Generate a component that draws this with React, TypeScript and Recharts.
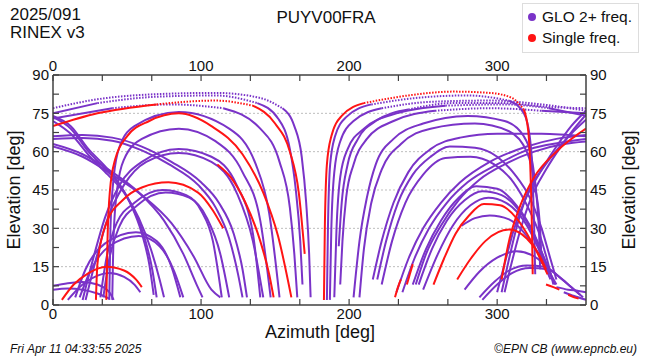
import React from "react";
import { LineChart, Line, XAxis, YAxis, ReferenceLine } from "recharts";

type Pt = [number, number]; // [azimuth, elevation]

// axis ticks / grid
const azTicks = [0, 33.3, 66.7, 100, 133.3, 166.7, 200, 233.3, 266.7, 300, 333.3];
const azLabels = [0, 100, 200, 300];
const elTicks = [0, 7.5, 15, 22.5, 30, 37.5, 45, 52.5, 60, 67.5, 75, 82.5, 90];
const elLabels = [0, 15, 30, 45, 60, 75, 90];
const gridEls = [15, 30, 45, 60, 75];

// ---- GLONASS 2+ freq. tracks (west half)
const gA1: Pt[] = [[0, 77], [30, 80.5], [70, 82.5], [110, 83], [140, 81], [155, 77], [163, 70], [168, 58], [171, 40], [173, 20], [174, 3]];
const gA2: Pt[] = [[0, 75], [30, 79], [70, 81.5], [110, 82], [138, 79], [152, 73], [160, 61], [164, 45], [167, 25], [168.5, 8]];
const gA4: Pt[] = [[0, 73], [40, 77], [80, 78.5], [115, 77], [140, 69], [153, 56], [160, 38], [163, 20], [165, 3]];
const gB2: Pt[] = [[38, 2], [38.8, 30], [41, 50], [45, 62], [55, 70], [85, 75.5], [119, 69], [137, 55], [146, 36], [153, 3]];
const gB3: Pt[] = [[40, 2], [41, 28], [43.5, 46], [48, 57], [60, 65], [85, 69], [110, 64], [128, 52], [140, 33], [147, 3]];
const gC1: Pt[] = [[20, 2], [28, 20], [35, 34], [45, 47], [60, 56], [85, 61], [107, 58], [124, 47], [135, 28], [140, 3]];
const gC2: Pt[] = [[22, 2], [30, 20], [37, 34], [48, 47], [63, 56], [85, 59.5], [107, 56], [124, 44], [135, 25], [142, 3]];
const gD1: Pt[] = [[0, 66], [20, 66.5], [40, 65.5], [60, 62], [80, 56], [100, 48], [112, 40], [122, 28], [128, 14], [131, 3]];
const gD2: Pt[] = [[0, 65], [20, 65.3], [40, 64.3], [60, 60.5], [80, 54.5], [98, 47], [110, 38], [119, 26], [125, 12], [128, 3]];
const gH1: Pt[] = [[0, 74], [12, 70], [24, 61], [34, 55], [43, 49], [52, 40], [60, 28], [65, 16], [68, 4]];
const gH2: Pt[] = [[0, 73.5], [12, 69], [24, 60], [35, 53.5], [45, 47], [54, 38], [62, 26], [67, 14], [70, 3]];
const gH3: Pt[] = [[0, 72], [12, 67], [25, 58], [37, 51], [48, 44], [58, 34], [66, 22], [72, 10], [75, 3]];
const gH4: Pt[] = [[0, 63], [20, 59], [40, 52], [58, 44], [75, 33], [88, 20], [97, 8], [101, 3]];
const gH5: Pt[] = [[0, 62], [20, 58], [40, 51], [60, 43], [80, 32], [95, 19], [107, 6], [113, 3]];
const gE1: Pt[] = [[32, 3], [36, 18], [43, 32], [55, 40], [74, 45], [90, 43], [100, 37], [108, 25], [114, 3]];
const gE2: Pt[] = [[34, 3], [38, 18], [45, 31], [57, 39], [76, 44], [92, 42], [104, 34], [113, 20], [119, 3]];
const gF1: Pt[] = [[15, 3], [22, 14], [35, 24], [56, 28.5], [70, 25], [80, 15], [86, 3]];
const gF2: Pt[] = [[18, 3], [25, 13], [38, 23], [58, 27], [72, 23], [82, 13], [88, 3]];
const gG2: Pt[] = [[0, 7.5], [10, 8.5], [20, 9], [30, 8], [38, 5], [41, 2]];
const gG3: Pt[] = [[0, 6], [10, 6.5], [20, 6], [30, 4.5], [38, 2.5]];
const gG4: Pt[] = [[10, 2], [20, 8], [30, 11.5], [38, 12.5], [48, 11], [55, 8], [59, 5]];

// ---- GLONASS 2+ freq. tracks (east half)
const gJ2: Pt[] = [[185, 2], [185.7, 30], [187.2, 55], [190.5, 66], [198, 73.5], [215, 78.5], [245, 81], [280, 82], [308, 80], [318, 75], [322, 66], [324, 50], [325, 30], [325.7, 12]];
const gJ3: Pt[] = [[187, 2], [188, 30], [190, 52], [194, 64], [203, 72], [222, 77], [255, 79.5], [295, 80], [330, 78.5], [360, 76]];
const gJ4: Pt[] = [[190, 3], [191.5, 30], [194, 50], [199, 61], [210, 69], [232, 75], [265, 78], [305, 78.5], [335, 77], [360, 74]];
const gJ5: Pt[] = [[193, 23], [195, 40], [199, 55], [206, 65], [218, 72], [240, 76.5], [270, 79], [305, 79], [335, 77.5], [360, 77]];
const gJ6: Pt[] = [[194, 8], [195.5, 25], [198, 42], [203, 55], [212, 65], [230, 72], [258, 76], [295, 77], [330, 76], [360, 75]];
const gJ7: Pt[] = [[203, 3], [207, 25], [212, 42], [218, 55], [230, 65], [250, 71], [280, 74], [305, 72], [318, 66], [324, 55], [327, 40], [328.5, 25], [329, 14]];
const gJ8: Pt[] = [[207, 3], [210, 22], [215, 40], [222, 53], [235, 63], [255, 69], [285, 71], [308, 68], [320, 60], [326, 45], [329, 30], [330, 16]];
const gN1: Pt[] = [[303, 5], [308, 18], [313, 30], [320, 43], [330, 53], [340, 62], [350, 70], [360, 76]];
const gN2: Pt[] = [[305, 5], [310, 17], [316, 30], [323, 42], [333, 53], [343, 62], [352, 69], [360, 74.5]];
const gN3: Pt[] = [[300, 5], [305, 16], [311, 29], [318, 40], [327, 50], [338, 59], [350, 67], [360, 72.5]];
const gO1: Pt[] = [[232, 5], [240, 18], [250, 30], [262, 40], [275, 48], [295, 56], [320, 62], [340, 65], [360, 66.5]];
const gO2: Pt[] = [[236, 5], [244, 18], [254, 30], [266, 40], [280, 48], [300, 55], [322, 61], [342, 63.5], [360, 65]];
const gO3: Pt[] = [[245, 8], [252, 20], [262, 31], [274, 41], [288, 49], [305, 55], [325, 60], [345, 63], [360, 64]];
const gP1: Pt[] = [[216, 10], [222, 25], [230, 40], [240, 52], [255, 61], [275, 65.5], [300, 67], [330, 67], [360, 66]];
const gP2: Pt[] = [[219, 10], [225, 25], [233, 40], [243, 51], [255, 58], [268, 62], [285, 61.5], [300, 58], [312, 51], [322, 42], [330, 30], [336, 18], [340, 10]];
const gP3: Pt[] = [[222, 8], [229, 25], [238, 40], [250, 51], [265, 57.5], [282, 58], [298, 55], [311, 48], [321, 38], [329, 27], [335, 15], [338, 8]];
const gK1: Pt[] = [[243, 8], [252, 22], [262, 33], [274, 42], [286, 46.5], [300, 45.5], [313, 39], [324, 29], [332, 18], [338, 9]];
const gK2: Pt[] = [[247, 8], [256, 22], [266, 33], [278, 41], [290, 44.5], [303, 43], [316, 36], [326, 26], [334, 15], [339, 8]];
const gK3: Pt[] = [[250, 6], [260, 20], [270, 31], [282, 39], [294, 42], [306, 40], [318, 33], [328, 22], [335, 12]];
const gL1: Pt[] = [[276, 31], [285, 34], [295, 35], [308, 33.5], [320, 27], [330, 18], [336, 10]];
const gL2: Pt[] = [[278, 6], [288, 13], [300, 18.5], [313, 21], [325, 19], [334, 14], [340, 8]];
const gL3: Pt[] = [[288, 3], [298, 9], [308, 13.5], [320, 15.5], [332, 15], [342, 11], [350, 7], [356, 4]];
const gL4: Pt[] = [[290, 2], [300, 8], [310, 12.5], [322, 14.5], [334, 14], [344, 10], [352, 6], [358, 3]];
const gM1: Pt[] = [[340, 7], [348, 6], [355, 5.5], [360, 5]];
const gM2: Pt[] = [[345, 5], [352, 3.5], [360, 2]];

// ---- single freq. tracks
const sA3: Pt[] = [[0, 70], [30, 75], [70, 78.5], [110, 80], [135, 78], [150, 71], [160, 60], [166, 44], [170, 20]];
const sB1: Pt[] = [[36, 2], [36.8, 25], [38.5, 45], [42, 57], [50, 66], [65, 72], [85, 75], [107, 70], [128, 59], [142, 44], [152, 27], [161, 3]];
const sF1: Pt[] = [[29, 2], [30, 16], [36, 32], [47, 41], [60, 46], [78, 48], [98, 44], [108, 37], [115, 30]];
const sG1: Pt[] = [[6, 2], [14, 8], [24, 12.5], [36, 15], [48, 13.5], [56, 10], [60, 7]];
const sR3: Pt[] = [[111, 55], [120, 50], [130, 40], [140, 25], [146, 12], [149, 3]];
const sJ1: Pt[] = [[183, 2], [183.6, 30], [185, 55], [188, 66], [195, 74], [210, 79], [240, 82], [270, 83.5], [295, 83], [310, 81], [318, 76.5], [321, 68], [322.5, 52], [323.5, 30], [324, 12]];
const sR5: Pt[] = [[303, 10], [308, 25], [315, 38], [325, 50], [340, 60], [360, 69]];
const sR6: Pt[] = [[257, 8], [264, 18], [272, 28], [281, 35], [291, 39.5], [302, 39], [313, 34], [323, 25], [330, 17], [334, 12]];
const sR7: Pt[] = [[273, 10], [282, 18], [292, 25], [308, 29.5], [320, 26], [328, 20], [333, 14]];
const sQ1: Pt[] = [[231, 3], [233, 7], [235, 10]];
const sQ2: Pt[] = [[239, 8], [241, 12], [243, 16]];
const sM3: Pt[] = [[333, 8], [338, 7], [342, 6]];
const sM4: Pt[] = [[348, 4], [352, 3], [355, 2.5]];

const gloTracks = [gA1, gA2, gA4, gB2, gB3, gC1, gC2, gD1, gD2, gH1, gH2, gH3, gH4, gH5, gE1, gE2, gF1, gF2, gG2, gG3, gG4,
  gJ2, gJ3, gJ4, gJ5, gJ6, gJ7, gJ8, gN1, gN2, gN3, gO1, gO2, gO3, gP1, gP2, gP3, gK1, gK2, gK3, gL1, gL2, gL3, gL4, gM1, gM2];
const singleTracks = [sA3, sB1, sF1, sG1, sR3, sJ1, sR5, sR6, sR7, sQ1, sQ2, sM3, sM4];

const GLO = "#7a33c8";
const SINGLE = "#ff1414";
const AXIS = "#404040";
const FONT = "'Liberation Sans', Arial, Helvetica, sans-serif";
const TM = 3; // tick margin
const TL = 6; // inward tick length

// near the zenith the samples spread apart, so the plot shows dots there
function segments(track: Pt[]) {
  const out: { dotted: boolean; rows: { az: number; el: number }[] }[] = [];
  for (let i = 0; i < track.length - 1; i++) {
    const dotted = Math.min(track[i][1], track[i + 1][1]) >= 75.5;
    const next = { az: track[i + 1][0], el: track[i + 1][1] };
    const last = out[out.length - 1];
    if (last && last.dotted === dotted) last.rows.push(next);
    else out.push({ dotted, rows: [{ az: track[i][0], el: track[i][1] }, next] });
  }
  return out;
}

const isLabel = (v: number, list: number[]) => list.some((l) => Math.abs(l - v) < 0.01);

const BottomTick = ({ x, y, payload }: any) => (
  <g>
    <line x1={x} x2={x} y1={y - TM} y2={y - TM - TL} stroke={AXIS} strokeWidth={1.2} />
    {isLabel(payload.value, azLabels) && (
      <text x={x} y={y} dy="0.75em" textAnchor="middle" fontSize={15} fill="#111" fontFamily={FONT}>{payload.value}</text>
    )}
  </g>
);
const TopTick = ({ x, y, payload }: any) => (
  <g>
    <line x1={x} x2={x} y1={y + TM} y2={y + TM + TL} stroke={AXIS} strokeWidth={1.2} />
    {isLabel(payload.value, azLabels) && (
      <text x={x} y={y} dy="-0.1em" textAnchor="middle" fontSize={15} fill="#111" fontFamily={FONT}>{payload.value}</text>
    )}
  </g>
);
const LeftTick = ({ x, y, payload }: any) => (
  <g>
    <line x1={x + TM} x2={x + TM + TL} y1={y} y2={y} stroke={AXIS} strokeWidth={1.2} />
    {isLabel(payload.value, elLabels) && (
      <text x={x - 1} y={y} dy="0.36em" textAnchor="end" fontSize={15} fill="#111" fontFamily={FONT}>{payload.value}</text>
    )}
  </g>
);
const RightTick = ({ x, y, payload }: any) => (
  <g>
    <line x1={x - TM} x2={x - TM - TL} y1={y} y2={y} stroke={AXIS} strokeWidth={1.2} />
    {isLabel(payload.value, elLabels) && (
      <text x={x + 1} y={y} dy="0.36em" textAnchor="start" fontSize={15} fill="#111" fontFamily={FONT}>{payload.value}</text>
    )}
  </g>
);

function trackLines(tracks: Pt[][], color: string, prefix: string) {
  return tracks.flatMap((t, i) =>
    segments(t).map((s, j) => (
      <Line
        key={`${prefix}${i}-${j}`}
        data={s.rows}
        dataKey="el"
        type="monotone"
        stroke={color}
        strokeWidth={2}
        strokeDasharray={s.dotted ? "1.5 1.5" : undefined}
        dot={false}
        activeDot={false}
        isAnimationActive={false}
      />
    ))
  );
}

export default function App() {
  return (
    <div style={{ position: "relative", width: 650, height: 360, background: "#fff", fontFamily: FONT, color: "#111" }}>
      <style>{`body{margin:0}`}</style>

      <div style={{ position: "absolute", left: 10, top: 6, fontSize: 17, lineHeight: "18px" }}>
        2025/091<br />RINEX v3
      </div>
      <div style={{ position: "absolute", left: 0, top: 8, width: 652, textAlign: "center", fontSize: 17 }}>PUYV00FRA</div>

      <div style={{ position: "absolute", left: 522, top: 3, width: 115, height: 48, border: "1px solid #ddd", background: "#fff", fontSize: 15.5 }}>
        {[{ c: GLO, t: "GLO 2+ freq." }, { c: SINGLE, t: "Single freq." }].map((it, i) => (
          <div key={i} style={{ position: "absolute", left: 5, top: 4 + i * 21, display: "flex", alignItems: "center", whiteSpace: "nowrap" }}>
            <span style={{ display: "inline-block", width: 8, height: 8, borderRadius: 4, background: it.c, marginRight: 6 }} />
            {it.t}
          </div>
        ))}
      </div>

      <LineChart width={650} height={360} margin={{ top: 55, right: 34, bottom: 35, left: 23 }}>
        {gridEls.map((v) => (
          <ReferenceLine key={v} y={v} stroke="#bdbdbd" strokeDasharray="2 2" strokeWidth={1} />
        ))}
        <XAxis
          type="number"
          dataKey="az"
          domain={[0, 360]}
          allowDataOverflow
          ticks={azTicks}
          interval={0}
          height={20}
          tickSize={0}
          tickMargin={TM}
          tick={BottomTick}
          axisLine={{ stroke: AXIS, strokeWidth: 1.5 }}
        />
        <XAxis
          xAxisId="top"
          orientation="top"
          type="number"
          dataKey="az"
          domain={[0, 360]}
          allowDataOverflow
          ticks={azTicks}
          interval={0}
          height={20}
          tickSize={0}
          tickMargin={TM}
          tick={TopTick}
          axisLine={{ stroke: AXIS, strokeWidth: 1.5 }}
        />
        <YAxis
          type="number"
          domain={[0, 90]}
          allowDataOverflow
          ticks={elTicks}
          interval={0}
          width={30}
          tickSize={0}
          tickMargin={TM}
          tick={LeftTick}
          axisLine={{ stroke: AXIS, strokeWidth: 1.5 }}
        />
        <YAxis
          yAxisId="right"
          orientation="right"
          type="number"
          domain={[0, 90]}
          allowDataOverflow
          ticks={elTicks}
          interval={0}
          width={30}
          tickSize={0}
          tickMargin={TM}
          tick={RightTick}
          axisLine={{ stroke: AXIS, strokeWidth: 1.5 }}
        />
        {trackLines(gloTracks, GLO, "g")}
        {trackLines(singleTracks, SINGLE, "s")}
      </LineChart>

      <div style={{ position: "absolute", left: 14, top: 190, transform: "translate(-50%, -50%) rotate(-90deg)", fontSize: 18, whiteSpace: "nowrap" }}>
        Elevation [deg]
      </div>
      <div style={{ position: "absolute", left: 629, top: 190, transform: "translate(-50%, -50%) rotate(-90deg)", fontSize: 18, whiteSpace: "nowrap" }}>
        Elevation [deg]
      </div>
      <div style={{ position: "absolute", left: 0, width: 640, top: 322, textAlign: "center", fontSize: 18, lineHeight: "20px" }}>Azimuth [deg]</div>
      <div style={{ position: "absolute", left: 10, top: 342, fontSize: 12, fontStyle: "italic", lineHeight: "14px" }}>Fri Apr 11 04:33:55 2025</div>
      <div style={{ position: "absolute", right: 13, top: 342, fontSize: 12, fontStyle: "italic", lineHeight: "14px" }}>©EPN CB (www.epncb.eu)</div>
    </div>
  );
}
